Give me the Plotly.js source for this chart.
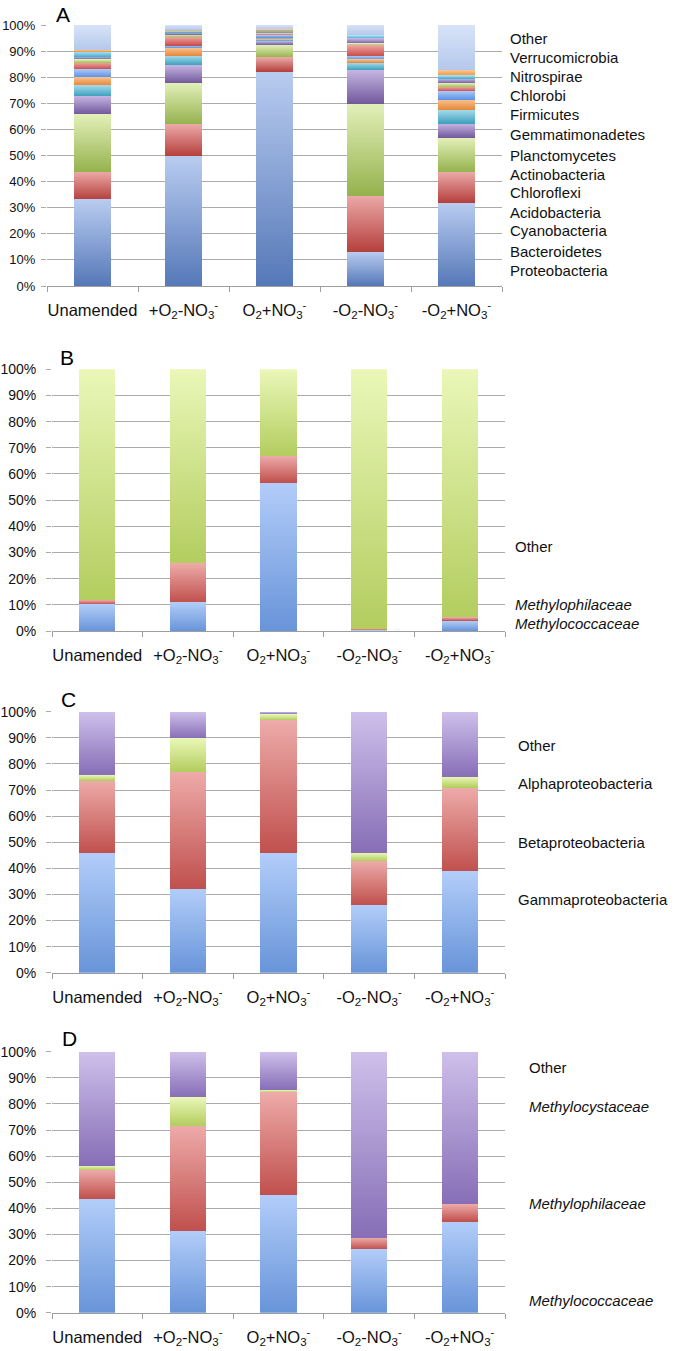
<!DOCTYPE html>
<html>
<head>
<meta charset="utf-8">
<script src="https://cdn.plot.ly/plotly-3.0.1.min.js"></script>
<style>
html,body{margin:0;padding:0;background:#fff;}
#chart{width:678px;height:1351px;}
</style>
</head>
<body>
<div id="chart"></div>
<script>
// ---------- DATA ----------
const categories = ['Unamended', '+O<sub>2</sub>-NO<sub>3</sub><sup>-</sup>', 'O<sub>2</sub>+NO<sub>3</sub><sup>-</sup>', '-O<sub>2</sub>-NO<sub>3</sub><sup>-</sup>', '-O<sub>2</sub>+NO<sub>3</sub><sup>-</sup>'];

// Panel A: phyla (bottom to top)
const phylaNames = ['Proteobacteria','Bacteroidetes','Cyanobacteria','Acidobacteria','Chloroflexi','Actinobacteria','Planctomycetes','Gemmatimonadetes','Firmicutes','Chlorobi','Nitrospirae','Verrucomicrobia','Other'];
const proteobacteria   = [33.2, 49.9, 82.1, 13.1, 31.9];
const bacteroidetes    = [10.5, 12.1,  5.5, 21.5, 11.7];
const cyanobacteria    = [22.1, 15.7,  4.7, 35.1, 13.2];
const acidobacteria    = [ 7.0,  7.0,  1.5, 13.1,  5.4];
const chloroflexi      = [ 4.2,  3.6,  0.8,  2.8,  5.4];
const actinobacteria   = [ 3.0,  2.9,  0.6,  1.2,  3.8];
const planctomycetes   = [ 3.0,  0.9,  0.8,  1.3,  3.2];
const gemmatimonadetes = [ 2.6,  3.4,  0.6,  4.2,  1.7];
const firmicutes       = [ 1.3,  0.8,  0.3,  0.7,  1.5];
const chlorobi         = [ 1.0,  0.8,  0.5,  1.9,  1.7];
const nitrospirae      = [ 1.9,  0.6,  0.4,  1.1,  1.2];
const verrucomicrobia  = [ 0.6,  0.4,  0.5,  0.2,  2.0];
const otherA           = [ 9.6,  1.9,  1.7,  3.8, 17.3];

// Panel B: methylotroph families
const familyNamesB = ['Methylococcaceae','Methylophilaceae','Other'];
const methylococcaceaeB = [10.2, 11.0, 56.7, 0.2, 3.9];
const methylophilaceaeB = [ 1.6, 14.9, 10.2, 0.7, 1.3];
const otherB            = [88.2, 74.1, 33.1, 99.1, 94.8];

// Panel C: proteobacterial classes
const classNamesC = ['Gammaproteobacteria','Betaproteobacteria','Alphaproteobacteria','Other'];
const gammaC = [45.7, 32.2, 45.7, 25.9, 38.8];
const betaC  = [27.9, 44.8, 51.1, 16.9, 32.1];
const alphaC = [ 2.1, 12.8,  2.2,  3.2,  4.2];
const otherC = [24.3, 10.2,  1.0, 54.0, 24.9];

// Panel D: methylotroph families
const familyNamesD = ['Methylococcaceae','Methylophilaceae','Methylocystaceae','Other'];
const methylococcaceaeD = [43.7, 31.3, 45.1, 24.3, 34.9];
const methylophilaceaeD = [11.0, 40.3, 39.3,  4.4,  6.7];
const methylocystaceaeD = [ 1.6, 11.0,  0.9,  0.0,  0.1];
const otherD            = [43.7, 17.4, 14.7, 71.3, 58.3];

const yTicks = [0,10,20,30,40,50,60,70,80,90,100];
const yTickText = ['0%','10%','20%','30%','40%','50%','60%','70%','80%','90%','100%'];
const panelLetters = ['A','B','C','D'];

// ---------- STYLE ----------
const W = 678, H = 1351;
const FONT = 'Liberation Sans, Arial, sans-serif';
// [dark(bottom), light(top)]
const palA = [
  ['#5578B8','#B9CCF0'], ['#B5403D','#EBA9A7'], ['#95B24E','#E2F0B8'], ['#71589C','#C6B6E2'],
  ['#3FA0BF','#A7DCEB'], ['#E78A3A','#F7C190'], ['#5E92E6','#A9C7F7'], ['#C84D4A','#EFA7A5'],
  ['#A5C55A','#E6F5B9'], ['#7B63B0','#C8B9E8'], ['#49B2D0','#AEE2F0'], ['#F0983F','#FAC897'],
  ['#B4C8EC','#D8E3F7']
];
const palBlue = ['#6894D9','#B2CDF9'], palRed = ['#C0504D','#EDABA9'], palGreen = ['#B3CD5F','#EAF7B8'], palPurple = ['#876EB6','#CEC0EB'];

// panel pixel boxes: [x0, x1, yTop, yBottom]
const boxes = [
  [47, 502, 25, 286],
  [52, 505, 369.3, 631],
  [52, 505, 711.7, 972.7],
  [52, 505, 1051.7, 1312.7]
];
const yStandoff = [3, 7, 7, 7];
const yFontSize = [13, 14, 14, 14];
// legend label pixel positions
const legendX = [508, 513, 516, 527];
const legendYA = [270, 251, 231, 212, 193, 174, 155, 135, 115, 96, 77, 58, 38.5];
const legendYB = [623.3, 604, 546.7];
const legendYC = [899.3, 842.7, 783.3, 745];
const legendYD = [1300.7, 1203.3, 1106.7, 1067.7];
const letterPos = [[54, 14], [58, 357], [59, 699], [60, 1038]];

// ---------- BUILD ----------
const traces = [];
const gradInfo = [];
function addTrace(name, vals, pal, panel) {
  const ax = panel === 0 ? '' : String(panel + 1);
  traces.push({
    type: 'bar', name: name, x: categories, y: vals,
    xaxis: 'x' + ax, yaxis: 'y' + ax,
    marker: {color: pal[0], line: {width: 0}},
    hoverinfo: 'skip'
  });
  gradInfo.push(pal);
}
const seriesA = [proteobacteria, bacteroidetes, cyanobacteria, acidobacteria, chloroflexi, actinobacteria, planctomycetes, gemmatimonadetes, firmicutes, chlorobi, nitrospirae, verrucomicrobia, otherA];
seriesA.forEach((s, i) => addTrace(phylaNames[i], s, palA[i], 0));
[methylococcaceaeB, methylophilaceaeB, otherB].forEach((s, i) => addTrace(familyNamesB[i], s, [palBlue, palRed, palGreen][i], 1));
[gammaC, betaC, alphaC, otherC].forEach((s, i) => addTrace(classNamesC[i], s, [palBlue, palRed, palGreen, palPurple][i], 2));
[methylococcaceaeD, methylophilaceaeD, methylocystaceaeD, otherD].forEach((s, i) => addTrace(familyNamesD[i], s, [palBlue, palRed, palGreen, palPurple][i], 3));

const layout = {
  width: W, height: H,
  margin: {l: 0, r: 0, t: 0, b: 0},
  paper_bgcolor: '#fff', plot_bgcolor: '#fff',
  barmode: 'stack', bargap: 0.6,
  showlegend: false,
  font: {family: FONT, color: '#111'},
  annotations: []
};
boxes.forEach((b, p) => {
  const ax = p === 0 ? '' : String(p + 1);
  layout['xaxis' + ax] = {
    domain: [b[0] / W, b[1] / W],
    anchor: 'y' + ax,
    type: 'category',
    showline: true, linecolor: '#9E9E9E', linewidth: 1,
    ticks: 'outside', tickson: 'boundaries', ticklen: 5, tickcolor: '#9E9E9E',
    showgrid: false, zeroline: false,
    tickangle: 0,
    tickfont: {size: 16.5, family: FONT, color: '#111'},
    ticklabelstandoff: 9,
    fixedrange: true
  };
  layout['yaxis' + ax] = {
    domain: [1 - b[3] / H, 1 - b[2] / H],
    anchor: 'x' + ax,
    range: [0, 100],
    tickmode: 'array', tickvals: yTicks, ticktext: yTickText,
    showgrid: true, gridcolor: '#ABABAB', gridwidth: 1,
    showline: false, zeroline: false,
    ticks: 'outside', ticklen: 5, tickcolor: '#ABABAB',
    tickfont: {size: yFontSize[p], family: FONT, color: '#111'},
    ticklabelstandoff: yStandoff[p],
    fixedrange: true
  };
});
function addLabel(text, px, py, italic) {
  layout.annotations.push({
    text: italic ? '<i>' + text + '</i>' : text,
    xref: 'paper', yref: 'paper', x: px / W, y: 1 - py / H,
    xanchor: 'left', yanchor: 'middle', showarrow: false,
    font: {size: 15, family: FONT, color: '#111'}
  });
}
phylaNames.forEach((n, i) => addLabel(n, legendX[0], legendYA[i], false));
familyNamesB.forEach((n, i) => addLabel(n, legendX[1], legendYB[i], n !== 'Other'));
classNamesC.forEach((n, i) => addLabel(n, legendX[2], legendYC[i], false));
familyNamesD.forEach((n, i) => addLabel(n, legendX[3], legendYD[i], n !== 'Other'));
panelLetters.forEach((L, i) => {
  layout.annotations.push({
    text: L, xref: 'paper', yref: 'paper',
    x: letterPos[i][0] / W, y: 1 - letterPos[i][1] / H,
    xanchor: 'left', yanchor: 'middle', showarrow: false,
    font: {size: 21, family: FONT, color: '#000'}
  });
});

const gd = document.getElementById('chart');
Plotly.newPlot(gd, traces, layout, {staticPlot: true, displayModeBar: false}).then(() => {
  const svg = gd.querySelector('svg.main-svg');
  let defs = svg.querySelector('defs');
  const NS = 'http://www.w3.org/2000/svg';
  gradInfo.forEach((pal, i) => {
    const lg = document.createElementNS(NS, 'linearGradient');
    lg.setAttribute('id', 'bargrad' + i);
    lg.setAttribute('x1', '0'); lg.setAttribute('y1', '1');
    lg.setAttribute('x2', '0'); lg.setAttribute('y2', '0');
    const s1 = document.createElementNS(NS, 'stop');
    s1.setAttribute('offset', '0'); s1.setAttribute('stop-color', pal[0]);
    const s2 = document.createElementNS(NS, 'stop');
    s2.setAttribute('offset', '1'); s2.setAttribute('stop-color', pal[1]);
    lg.appendChild(s1); lg.appendChild(s2);
    defs.appendChild(lg);
  });
  gd.querySelectorAll('g.trace.bars').forEach(g => {
    const cd = g.__data__;
    if (!cd || !cd[0] || !cd[0].trace) return;
    const idx = cd[0].trace.index;
    g.querySelectorAll('path').forEach(p => { p.style.fill = 'url(#bargrad' + idx + ')'; });
  });
});
</script>
</body>
</html>
